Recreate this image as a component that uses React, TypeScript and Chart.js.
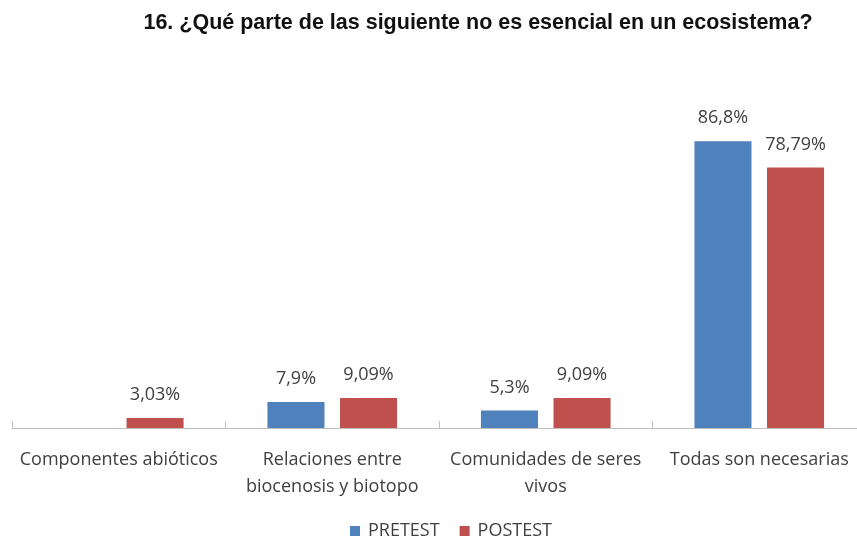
import React, { useEffect, useRef } from 'react';
import { Chart, registerables } from 'chart.js';

Chart.register(...registerables);

const titleText = '16. ¿Qué parte de las siguiente no es esencial en un ecosistema?';
const categories: string[][] = [
  ['Componentes abióticos'],
  ['Relaciones entre', 'biocenosis y biotopo'],
  ['Comunidades de seres', 'vivos'],
  ['Todas son necesarias'],
];
const seriesNames = ['PRETEST', 'POSTEST'];
const pretest = [0, 7.9, 5.3, 86.8];
const postest = [3.03, 9.09, 9.09, 78.79];
const pretestLabels = ['', '7,9%', '5,3%', '86,8%'];
const postestLabels = ['3,03%', '9,09%', '9,09%', '78,79%'];
const seriesColors = ['#4F81BD', '#C0504D'];

const LABEL_FONT = '"Open Sans"';

const valueLabelsPlugin = {
  id: 'valueLabels',
  afterDatasetsDraw(chart: any) {
    const ctx = chart.ctx;
    const all = [pretestLabels, postestLabels];
    ctx.save();
    ctx.font = `18px ${LABEL_FONT}`;
    ctx.fillStyle = '#404040';
    ctx.textAlign = 'center';
    ctx.textBaseline = 'middle';
    chart.data.datasets.forEach((_ds: any, i: number) => {
      const meta = chart.getDatasetMeta(i);
      meta.data.forEach((bar: any, j: number) => {
        const t = all[i][j];
        if (!t) return;
        ctx.fillText(t, bar.x, bar.y - 23);
      });
    });
    ctx.restore();
  },
};

const titlePlugin = {
  id: 'customTitle',
  afterDraw(chart: any) {
    const ctx = chart.ctx;
    ctx.save();
    ctx.font = 'bold 21.5px "Liberation Sans"';
    ctx.fillStyle = '#111';
    ctx.textAlign = 'center';
    ctx.textBaseline = 'middle';
    ctx.fillText(titleText, 478, 23);
    ctx.restore();
  },
};

const legendPlugin = {
  id: 'customLegend',
  afterDraw(chart: any) {
    const ctx = chart.ctx;
    ctx.save();
    ctx.font = `18px ${LABEL_FONT}`;
    ctx.textBaseline = 'middle';
    ctx.textAlign = 'left';
    const box = 10;
    const gapBoxText = 8;
    const gapItems = 20;
    const widths = seriesNames.map((n) => ctx.measureText(n).width);
    const total = widths.reduce((a, w) => a + box + gapBoxText + w, 0) + gapItems * (seriesNames.length - 1);
    let x = 451 - total / 2;
    const y = 531;
    seriesNames.forEach((n, i) => {
      ctx.fillStyle = seriesColors[i];
      ctx.fillRect(x, y - box / 2, box, box);
      x += box + gapBoxText;
      ctx.fillStyle = '#404040';
      ctx.fillText(n, x, y);
      x += widths[i] + gapItems;
    });
    ctx.restore();
  },
};

export default function App() {
  const ref = useRef<HTMLCanvasElement | null>(null);
  useEffect(() => {
    if (!ref.current) return;
    const chart = new Chart(ref.current, {
      type: 'bar',
      data: {
        labels: categories,
        datasets: [
          {
            label: seriesNames[0],
            data: pretest,
            backgroundColor: seriesColors[0],
            categoryPercentage: 0.68,
            barPercentage: 0.786,
          },
          {
            label: seriesNames[1],
            data: postest,
            backgroundColor: seriesColors[1],
            categoryPercentage: 0.68,
            barPercentage: 0.786,
          },
        ],
      },
      options: {
        animation: false,
        responsive: false,
        devicePixelRatio: 1,
        layout: { padding: { left: 12, right: 14, top: 97.5, bottom: 0 } },
        plugins: {
          legend: { display: false },
          title: { display: false },
          tooltip: { enabled: false },
        },
        scales: {
          x: {
            offset: true,
            grid: {
              display: true,
              drawOnChartArea: false,
              drawTicks: true,
              tickLength: -7,
              offset: true,
              color: '#bfbfbf',
            },
            border: { display: true, color: '#bfbfbf', width: 1 },
            ticks: {
              font: { family: 'Open Sans', size: 18, lineHeight: 1.5 },
              color: '#404040',
              padding: 25,
              maxRotation: 0,
              autoSkip: false,
            },
            afterFit: (s: any) => {
              s.height = 117;
              s.paddingLeft = 0;
              s.paddingRight = 0;
            },
          },
          y: { display: false, min: 0, max: 100 },
        },
      },
      plugins: [valueLabelsPlugin, titlePlugin, legendPlugin],
    });
    return () => chart.destroy();
  }, []);
  return (
    <div
      style={{
        position: 'fixed',
        left: 0,
        top: 0,
        width: 857,
        height: 545,
        overflow: 'hidden',
        background: '#fff',
      }}
    >
      <canvas ref={ref} width={880} height={545} style={{ display: 'block', width: 880, height: 545 }} />
    </div>
  );
}
